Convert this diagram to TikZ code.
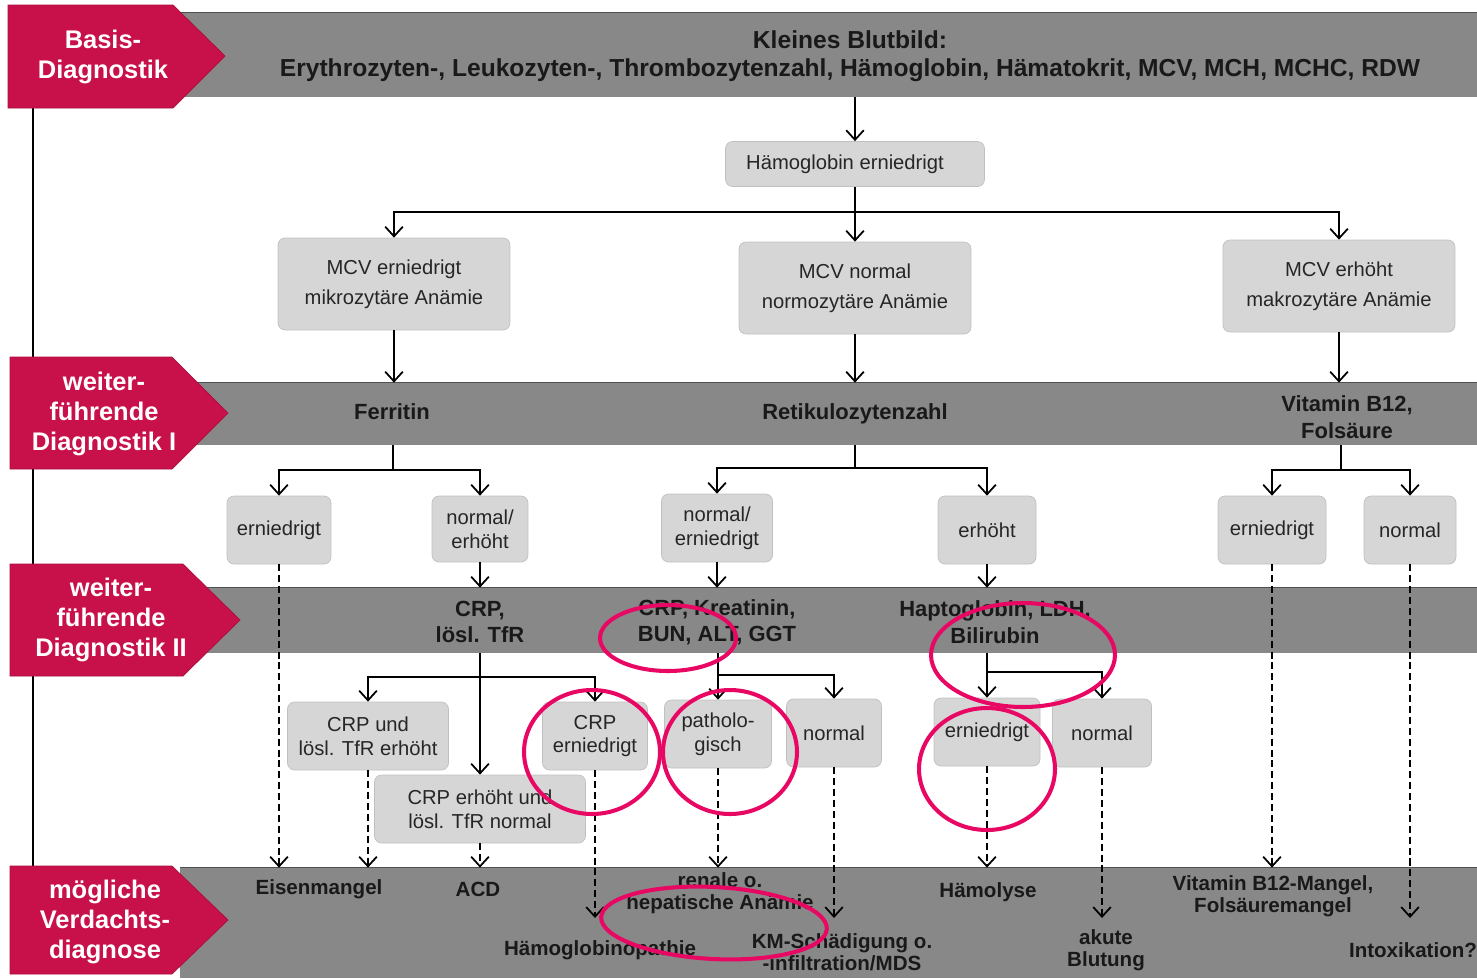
\documentclass[tikz,border=0pt]{standalone}
\usepackage{fontspec}
\setmainfont{Liberation Sans}
\usetikzlibrary{arrows.meta}

\definecolor{tabred}{RGB}{200,16,74}
\definecolor{bandgray}{RGB}{136,136,136}
\definecolor{bandline}{RGB}{80,80,80}
\definecolor{boxgray}{RGB}{214,214,214}
\definecolor{boxline}{RGB}{192,192,192}
\definecolor{ringpink}{RGB}{232,8,100}

\tikzset{
  band/.style={fill=bandgray, inner sep=0pt, minimum width=25.94cm},
  bandtext/.style={font=\fontsize{12.5}{15}\selectfont\bfseries, align=center, text=black!90},
  diag/.style={font=\fontsize{11.7}{12.8}\selectfont\bfseries, align=center, text=black!90},
  tabtext/.style={font=\fontsize{14.5}{17}\selectfont\bfseries, align=center, text=white},
  box/.style={rounded corners=4pt, fill=boxgray, draw=boxline, align=center,
    font=\fontsize{11.5}{13.5}\selectfont, text=black!85, inner sep=1pt},
  mcv/.style={box, minimum width=4.64cm, minimum height=1.84cm, font=\fontsize{11.5}{17}\selectfont},
  arr/.style={-{Straight Barb[length=5.5pt,width=10pt]}, line width=1pt},
  darr/.style={arr, dash pattern=on 4pt off 2.2pt},
  ring/.style={draw=ringpink, line width=2.3pt}
}

\begin{document}
\begin{tikzpicture}[x=0.02cm, y=-0.02cm]
  \useasboundingbox (0,0) rectangle (1477,978);

  % grey bands
  \node[band, minimum height=1.68cm] (band1) at (828.5,55) {};
  \node[band, minimum height=1.24cm] (band2) at (828.5,414) {};
  \node[band, minimum height=1.3cm, minimum width=25.74cm] (band3) at (833.5,620.5) {};
  \node[band, minimum height=2.2cm] (band4) at (828.5,923) {};
  \foreach \b in {band1,band2,band3,band4}
    \draw[bandline, line width=0.6pt] (\b.north west) -- (\b.north east);

  % red tabs
  \draw[line width=1.2pt] (33,108) -- (33,866);
  \filldraw[fill=tabred, draw=tabred!85!black] (8,5) -- (173,5) -- (225,56) -- (173,108) -- (8,108) -- cycle;
  \filldraw[fill=tabred, draw=tabred!85!black] (10,357) -- (172,357) -- (228,413) -- (172,469) -- (10,469) -- cycle;
  \filldraw[fill=tabred, draw=tabred!85!black] (10,564) -- (183,564) -- (240,620) -- (183,676) -- (10,676) -- cycle;
  \filldraw[fill=tabred, draw=tabred!85!black] (10,866) -- (172,866) -- (228,920) -- (172,974) -- (10,974) -- cycle;
  \node[tabtext] (tabbasis) at (103,57) {Basis-\\Diagnostik};
  \node[tabtext] (tabweiter) at (104,414) {weiter-\\führende\\Diagnostik I};
  \node[tabtext] (tabweiterii) at (111,620) {weiter-\\führende\\Diagnostik II};
  \node[tabtext] (tabverdacht) at (105,922) {mögliche\\Verdachts-\\diagnose};

  % band labels
  \node[bandtext, font=\fontsize{14}{16}\selectfont\bfseries] (blutbild) at (850,56) {Kleines Blutbild:\\Erythrozyten-, Leukozyten-, Thrombozytenzahl, Hämoglobin, Hämatokrit, MCV, MCH, MCHC, RDW};
  \node[bandtext] (ferritin) at (392,412) {Ferritin};
  \node[bandtext] (retik) at (855,414) {Retikulozytenzahl};
  \node[bandtext] (vitb) at (1347,417) {Vitamin B12,\\Folsäure};
  \node[bandtext] (crptfr) at (480,622) {CRP,\\lösl. TfR};
  \node[bandtext] (crpkrea) at (717,622) {CRP, Kreatinin,\\BUN, ALT, GGT};
  \node[bandtext] (hapto) at (995,622) {Haptoglobin, LDH,\\Bilirubin};

  % boxes
  \node[box, minimum width=5.18cm, minimum height=0.9cm] (hb) at (855,164) {Hämoglobin erniedrigt\hspace*{0.4cm}};
  \node[mcv] (mcvlow) at (394,284) {MCV erniedrigt\\mikrozytäre Anämie};
  \node[mcv] (mcvnorm) at (855,288) {MCV normal\\normozytäre Anämie};
  \node[mcv] (mcvhigh) at (1339,286) {MCV erhöht\\makrozytäre Anämie};
  \node[box, minimum width=2.08cm, minimum height=1.36cm] (ferlow) at (279,530) {erniedrigt};
  \node[box, minimum width=1.92cm, minimum height=1.32cm] (ferhigh) at (480,529) {normal/\\erhöht};
  \node[box, minimum width=2.22cm, minimum height=1.36cm] (retlow) at (717,528) {normal/\\erniedrigt};
  \node[box, minimum width=1.96cm, minimum height=1.36cm] (rethigh) at (987,530) {erhöht};
  \node[box, minimum width=2.16cm, minimum height=1.36cm] (vitlow) at (1272,530) {erniedrigt};
  \node[box, minimum width=1.84cm, minimum height=1.36cm] (vitnorm) at (1410,530) {normal};
  \node[box, minimum width=3.22cm, minimum height=1.36cm] (crpboth) at (368,736) {CRP und\\lösl. TfR erhöht};
  \node[box, minimum width=4.22cm, minimum height=1.36cm] (crpacd) at (480,809) {CRP erhöht und\\lösl. TfR normal};
  \node[box, minimum width=2.1cm, minimum height=1.36cm] (crplow) at (595,736) {CRP\\erniedrigt};
  \node[box, minimum width=2.14cm, minimum height=1.36cm] (patho) at (718,734) {patholo-\\gisch};
  \node[box, minimum width=1.9cm, minimum height=1.36cm] (kmnorm) at (834,733) {normal};
  \node[box, minimum width=2.12cm, minimum height=1.36cm] (haplow) at (987,732) {erniedrigt};
  \node[box, minimum width=1.98cm, minimum height=1.36cm] (hapnorm) at (1102,733) {normal};

  % diagnoses
  \node[diag] (eisen) at (319,889) {Eisenmangel};
  \node[diag] (acd) at (478,889) {ACD};
  \node[diag] (renal) at (720,893) {renale o.\\hepatische Anämie};
  \node[diag] (hbpath) at (600,950) {Hämoglobinopathie};
  \node[diag] (km) at (842,952) {KM-Schädigung o.\\-infiltration/MDS};
  \node[diag] (haemo) at (988,892) {Hämolyse};
  \node[diag] (blutung) at (1106,950) {akute\\Blutung};
  \node[diag] (vitmangel) at (1273,896) {Vitamin B12-Mangel,\\Folsäuremangel};
  \node[diag] (intox) at (1413,950) {Intoxikation?};

  % split points and free ends
  \coordinate (hbsplit) at (855,212);
  \coordinate (fsplit) at (393,470);
  \coordinate (rsplit) at (855,468);
  \coordinate (vsplit) at (1341,470);
  \coordinate (csplit) at (480,677);
  \coordinate (ksplit) at (718,675);
  \coordinate (hsplit) at (987,672);
  \coordinate (hbend) at (595,918);
  \coordinate (kmend) at (834,918);
  \coordinate (blend) at (1102,918);
  \coordinate (inend) at (1410,918);

  % connectors
  \draw[arr] (band1.south -| hb) -- (hb);
  \draw[arr] (hb) -- (mcvnorm);
  \draw[arr] (hbsplit) -| (mcvlow);
  \draw[arr] (hbsplit) -| (mcvhigh);
  \foreach \m in {mcvlow,mcvnorm,mcvhigh}
    \draw[arr] (\m) -- (\m |- band2.north);

  \draw[line width=1pt] (band2.south -| fsplit) -- (fsplit);
  \draw[arr] (fsplit) -| (ferlow);
  \draw[arr] (fsplit) -| (ferhigh);
  \draw[line width=1pt] (band2.south -| rsplit) -- (rsplit);
  \draw[arr] (rsplit) -| (retlow);
  \draw[arr] (rsplit) -| (rethigh);
  \draw[line width=1pt] (band2.south -| vsplit) -- (vsplit);
  \draw[arr] (vsplit) -| (vitlow);
  \draw[arr] (vsplit) -| (vitnorm);

  \foreach \m in {ferhigh,retlow,rethigh}
    \draw[arr] (\m) -- (\m |- band3.north);

  \draw[arr] (band3.south -| crpacd) -- (crpacd);
  \draw[arr] (csplit) -| (crpboth);
  \draw[arr] (csplit) -| (crplow);
  \draw[arr] (band3.south -| patho) -- (patho);
  \draw[arr] (ksplit) -| (kmnorm);
  \draw[arr] (band3.south -| haplow) -- (haplow);
  \draw[arr] (hsplit) -| (hapnorm);

  % dashed to diagnoses
  \foreach \m in {ferlow,crpboth,crpacd,patho,haplow,vitlow}
    \draw[darr] (\m) -- (\m |- band4.north);
  \draw[darr] (crplow) -- (hbend);
  \draw[darr] (kmnorm) -- (kmend);
  \draw[darr] (hapnorm) -- (blend);
  \draw[darr] (vitnorm) -- (inend);

  % pink marks
  \draw[ring] (668,638) ellipse [x radius=1.36cm, y radius=0.66cm];
  \draw[ring] (592,752) ellipse [x radius=1.36cm, y radius=1.24cm];
  \draw[ring] (730,752) ellipse [x radius=1.34cm, y radius=1.24cm];
  \draw[ring] (1023,655) ellipse [x radius=1.84cm, y radius=1.04cm];
  \draw[ring] (987,769) ellipse [x radius=1.36cm, y radius=1.22cm];
  \draw[ring, rotate around={-3:(714,923)}] (714,923) ellipse [x radius=2.26cm, y radius=0.72cm];
\end{tikzpicture}
\end{document}
